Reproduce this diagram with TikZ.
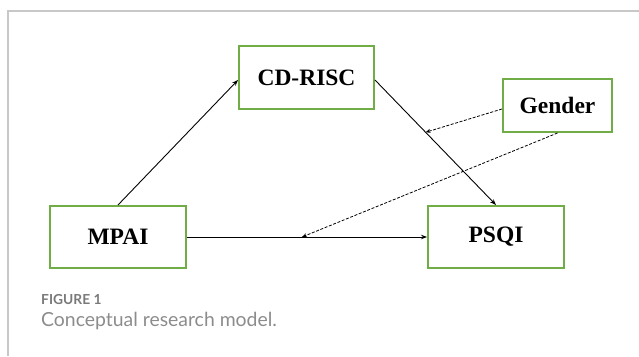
\documentclass[tikz,border=0pt]{standalone}
\usepackage{fontspec}
\setmainfont{Liberation Serif}
\newfontfamily\captionfont{Lato}
\usetikzlibrary{arrows.meta,positioning,calc}

\definecolor{boxgreen}{HTML}{70AD47}
\definecolor{framegray}{HTML}{C8C8C8}
\definecolor{capdark}{HTML}{7A7A7A}
\definecolor{caplight}{HTML}{8C8C8C}

\tikzset{
  varbox/.style={draw=boxgreen, line width=2pt, fill=white, inner sep=0pt,
    font=\fontsize{23.5}{27}\selectfont\bfseries},
  path/.style={draw=black, line width=0.9pt, -{Stealth[length=6pt,width=4.5pt]}},
  modpath/.style={draw=black, line width=0.8pt, dash pattern=on 3pt off 1.6pt,
    -{Stealth[length=5pt,width=4pt]}}
}

\begin{document}
\begin{tikzpicture}[x=1pt,y=-1pt]
  \useasboundingbox (0,0) rectangle (639,356);

  % panel frame
  \draw[framegray, line width=1.3pt] (8,356) -- (8,11) -- (639,11);

  % variables
  \node[varbox, minimum width=135pt, minimum height=63pt] (cd)     at (306.5,77.5) {CD-RISC};
  \node[varbox, minimum width=109pt, minimum height=53pt] (gender) at (557.5,105.5) {Gender};
  \node[varbox, minimum width=136pt, minimum height=62pt] (mpai)   at (118,237) {MPAI};
  \node[varbox, minimum width=136pt, minimum height=62pt] (psqi)   at (496,237) {PSQI};

  % direct and indirect paths
  \draw[path] (mpai.north) -- ($(cd.west)+(0,2.5)$);
  \draw[path] ($(cd.east)+(0,2.5)$) -- coordinate[pos=0.418] (m1) (psqi.north);
  \draw[path] (mpai.east) -- coordinate[pos=0.479] (m2) (psqi.west);

  % moderation by gender
  \draw[modpath] ($(gender.west)+(0,3.5)$) -- (m1);
  \draw[modpath] (gender.south) -- (m2);

  % caption
  \node[anchor=base west, inner sep=0pt, text=capdark,
        font=\captionfont\fontsize{13.8}{16}\selectfont\bfseries] (figlabel) at (41,304.5) {FIGURE 1};
  \node[anchor=base west, inner sep=0pt, text=caplight,
        font=\captionfont\fontsize{19.4}{23}\selectfont] (figtitle) at (41,326.5) {Conceptual research model.};
\end{tikzpicture}
\end{document}
